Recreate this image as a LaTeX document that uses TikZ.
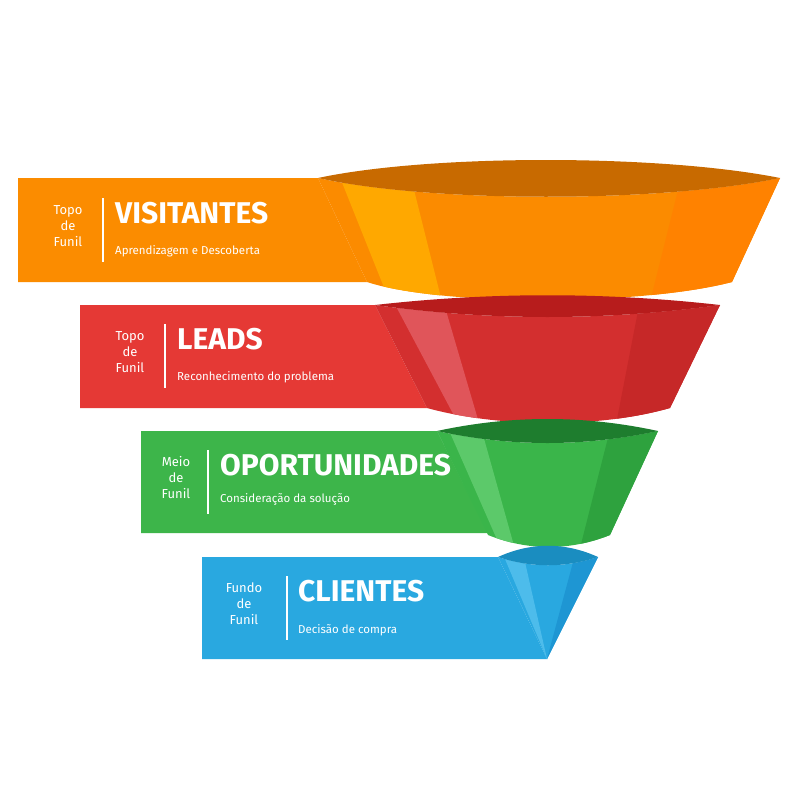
\documentclass[tikz,border=0pt]{standalone}
\usepackage{fontspec}
\setmainfont{Fira Sans}
\begin{document}
\begin{tikzpicture}[x=1pt,y=-1pt,
  small/.style={text=white,font=\fontsize{13}{15}\selectfont,align=center,inner sep=0pt},
  ttl/.style={text=white,font=\fontsize{30}{32}\selectfont\bfseries,anchor=base west,inner sep=0pt},
  sub/.style={text=white,font=\fontsize{11.5}{13}\selectfont,anchor=west,inner sep=0pt},
  sep/.style={white,line width=1.2pt}]
\useasboundingbox (0,0) rectangle (800,800);
\fill[white] (0,0) rectangle (800,800);
% ---------- ORANGE
\definecolor{oband}{HTML}{FB8C00}\definecolor{olens}{HTML}{C86A00}
\definecolor{olight}{HTML}{FFA800}\definecolor{odark}{HTML}{FF8200}
\fill[oband] (18,178) -- (318,178) -- (367,282) -- (18,282) -- cycle;
\begin{scope}
\clip (318,178) .. controls (430,203) and (660,203) .. (780,178) -- (732,282) .. controls (640,306) and (440,306) .. (367,282) -- cycle;
\fill[oband!90!orange] (300,150) rectangle (800,320);
\fill[olight] (329,150) -- (404,150) -- (444,310) -- (393,310) -- cycle;
\fill[odark] (688,150) -- (800,150) -- (800,310) -- (648,310) -- cycle;
\end{scope}
\fill[olens] (318,178) .. controls (430,154) and (660,154) .. (780,178) .. controls (660,203) and (430,203) .. (318,178);
% ---------- RED
\definecolor{rband}{HTML}{E53935}\definecolor{rlens}{HTML}{B71C1C}
\definecolor{rbody}{HTML}{D32F2F}\definecolor{rlight}{HTML}{E0555A}\definecolor{rdark}{HTML}{C62828}
\fill[rband] (80,305) -- (375,305) -- (427,408) -- (80,408) -- cycle;
\begin{scope}
\clip (375,305) .. controls (490,321) and (605,321) .. (720,305) -- (670,408) .. controls (600,428) and (500,428) .. (427,408) -- cycle;
\fill[rbody] (360,280) rectangle (740,440);
\fill[rlight] (382,280) -- (437,280) -- (484,440) -- (467,440) -- cycle;
\fill[rdark] (644,280) -- (740,280) -- (740,440) -- (613,440) -- cycle;
\end{scope}
\fill[rlens] (375,305) .. controls (490,292) and (605,292) .. (720,305) .. controls (605,321) and (490,321) .. (375,305);
% ---------- GREEN
\definecolor{gband}{HTML}{3DB54A}\definecolor{glens}{HTML}{1E7D2E}
\definecolor{gbody}{HTML}{3AB54A}\definecolor{glight}{HTML}{5CC96A}\definecolor{gdark}{HTML}{2EA23E}
\fill[gband] (141,431) -- (437,431) -- (488,533) -- (141,533) -- cycle;
\begin{scope}
\clip (437,431) .. controls (511,447) and (584,447) .. (658,431) -- (610,535) .. controls (570,551) and (528,551) .. (488,535) -- cycle;
\fill[gbody] (420,410) rectangle (680,560);
\fill[glight] (440,410) -- (476,410) -- (518,560) -- (506,560) -- cycle;
\fill[gdark] (615,410) -- (680,410) -- (680,560) -- (577,560) -- cycle;
\end{scope}
\fill[glens] (437,431) .. controls (511,415) and (584,415) .. (658,431) .. controls (584,447) and (511,447) .. (437,431);
% ---------- BLUE
\definecolor{bband}{HTML}{29A8E0}\definecolor{blens}{HTML}{1A8DC0}
\definecolor{blight}{HTML}{4DBCEB}\definecolor{bdark}{HTML}{1E96D3}
\fill[bband] (202,557) -- (498,557) -- (547,659) -- (202,659) -- cycle;
\begin{scope}
\clip (498,557) .. controls (531,568) and (565,568) .. (598,557) -- (547,659) -- cycle;
\fill[bband] (480,540) rectangle (620,660);
\fill[blight] (497,540) -- (520,540) -- (547,659) -- cycle;
\fill[bdark] (579,540) -- (620,540) -- (620,660) -- (547,659) -- cycle;
\end{scope}
\fill[blens] (498,557) .. controls (531,542) and (565,542) .. (598,557) .. controls (565,568) and (531,568) .. (498,557);
% ---------- TEXT
\node[small] (s1) at (68,226) {Topo\\[1pt]de\\[1pt]Funil};
\draw[sep] (103,198) -- (103,262);
\node[ttl] (t1) at (115,223) {VISITANTES};
\node[sub] (u1) at (115,251) {Aprendizagem e Descoberta};
\node[small] (s2) at (130,352) {Topo\\[1pt]de\\[1pt]Funil};
\draw[sep] (165,324) -- (165,388);
\node[ttl] (t2) at (177,349) {LEADS};
\node[sub] (u2) at (177,377) {Reconhecimento do problema};
\node[small] (s3) at (176,478) {Meio\\[1pt]de\\[1pt]Funil};
\draw[sep] (208,450) -- (208,514);
\node[ttl] (t3) at (220,475) {OPORTUNIDADES};
\node[sub] (u3) at (220,499) {Consideração da solução};
\node[small] (s4) at (244,604) {Fundo\\[1pt]de\\[1pt]Funil};
\draw[sep] (287,576) -- (287,640);
\node[ttl] (t4) at (298,601) {CLIENTES};
\node[sub] (u4) at (298,630) {Decisão de compra};
\end{tikzpicture}
\end{document}
